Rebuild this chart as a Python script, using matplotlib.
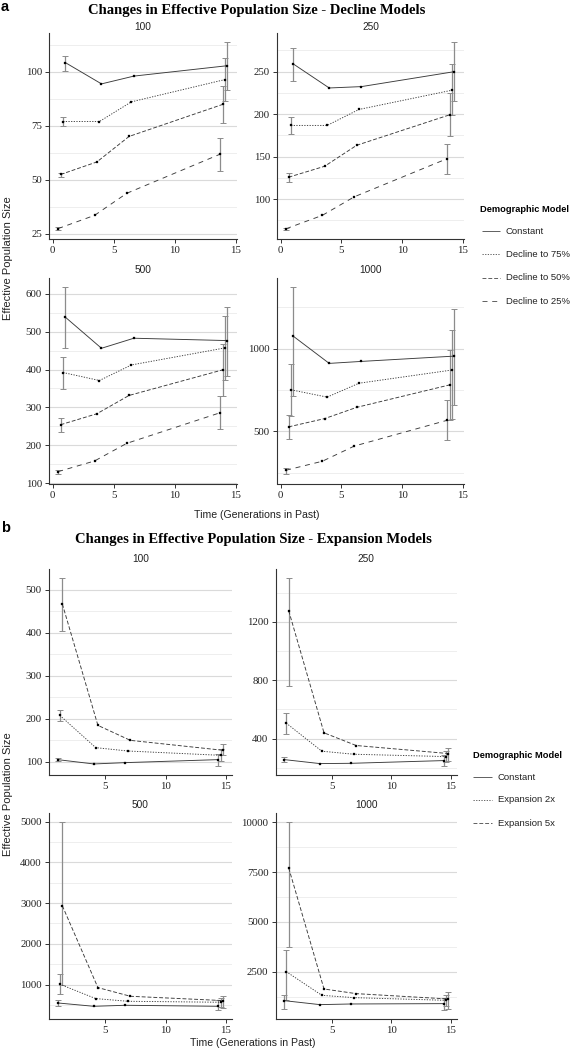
import numpy as np
import matplotlib
matplotlib.use("Agg")
import matplotlib.pyplot as plt
from matplotlib.ticker import FixedLocator, MultipleLocator
from matplotlib.lines import Line2D

nan = np.nan

# ---------------- data ----------------
decline_models = ["Constant", "Decline to 75%", "Decline to 50%", "Decline to 25%"]
expansion_models = ["Constant", "Expansion 2x", "Expansion 5x"]

# time (generations in past), dodged per model
decline_x = [[1.05, 4.00, 6.65, 14.30],
             [0.86, 3.83, 6.45, 14.12],
             [0.65, 3.62, 6.26, 13.92],
             [0.45, 3.43, 6.07, 13.72]]
expansion_x = [[1.02, 4.03, 6.65, 14.40],
               [1.20, 4.19, 6.86, 14.61],
               [1.41, 4.37, 7.07, 14.80]]

# Decline models, N = 100
dec100_mean = [[104.2, 94.4, 98.0, 102.8], [77.0, 77.0, 86.1, 96.4],
               [52.5, 58.3, 70.1, 84.9], [27.5, 33.6, 43.8, 61.9]]
dec100_lo = [[100.5, nan, nan, 91.8], [75.0, nan, nan, 86.3],
             [51.5, nan, nan, 76.2], [27.0, nan, nan, 54.3]]
dec100_hi = [[107.4, nan, nan, 113.6], [79.0, nan, nan, 106.2],
             [53.1, nan, nan, 93.5], [28.0, nan, nan, 69.4]]

# Decline models, N = 250
dec250_mean = [[259.0, 230.8, 232.4, 250.0], [186.7, 186.7, 205.5, 228.2],
               [125.7, 138.6, 163.3, 199.2], [65.1, 80.8, 102.7, 147.6]]
dec250_lo = [[239.4, nan, nan, 215.5], [176.5, nan, nan, 199.2],
             [120.2, nan, nan, 173.7], [64.0, nan, nan, 130.0]]
dec250_hi = [[277.5, nan, nan, 284.5], [196.9, nan, nan, 258.8],
             [130.4, nan, nan, 225.0], [66.5, nan, nan, 164.9]]

# Decline models, N = 500
dec500_mean = [[537.7, 456.0, 482.5, 476.3], [392.0, 371.0, 412.0, 457.0],
               [254.4, 283.3, 331.6, 399.0], [130.7, 158.8, 205.3, 286.0]]
dec500_lo = [[456.0, nan, nan, 383.3], [348.0, nan, nan, 373.0],
             [235.0, nan, nan, 329.0], [124.0, nan, nan, 243.0]]
dec500_hi = [[616.7, nan, nan, 565.8], [434.0, nan, nan, 542.0],
             [272.0, nan, nan, 467.5], [136.0, nan, nan, 329.0]]

# Decline models, N = 1000
dec1000_mean = [[1074, 910, 922, 954], [750, 706, 790, 870],
                [526, 576, 644, 780], [264, 318, 410, 566]]
dec1000_lo = [[710, nan, nan, 660], [590, nan, nan, 574],
              [450, nan, nan, 570], [240, nan, nan, 446]]
dec1000_hi = [[1370, nan, nan, 1240], [904, nan, nan, 1114],
              [600, nan, nan, 990], [280, nan, nan, 686]]

# Expansion models, N = 100
exp100_mean = [[104.7, 94.6, 97.7, 104.7], [207.8, 132.6, 124.8, 114.7],
               [467.4, 184.5, 149.6, 126.4]]
exp100_lo = [[101.6, nan, nan, 90.7], [194.6, nan, nan, 101.6],
             [405.4, nan, nan, 114.7]]
exp100_hi = [[107.8, nan, nan, 118.6], [220.9, nan, nan, 130.2],
             [527.0, nan, nan, 140.3]]

# Expansion models, N = 250
exp250_mean = [[255.5, 228.0, 230.0, 248.6], [505.5, 313.0, 292.2, 276.0],
               [1275.7, 439.0, 352.0, 297.0]]
exp250_lo = [[239.0, nan, nan, 214.0], [427.5, nan, nan, 240.0],
             [760.0, nan, nan, 249.0]]
exp250_hi = [[276.0, nan, nan, 290.0], [572.0, nan, nan, 313.0],
             [1498.0, nan, nan, 336.0]]

# Expansion models, N = 500
exp500_mean = [[549, 467, 492, 467], [1008, 656, 590, 566],
               [2934, 926, 713, 607]]
exp500_lo = [[467, nan, nan, 385], [779, nan, nan, 451],
             [980, nan, nan, 426]]
exp500_hi = [[631, nan, nan, 615], [1262, nan, nan, 672],
             [4980, nan, nan, 730]]

# Expansion models, N = 1000
exp1000_mean = [[1067, 867, 900, 917], [2517, 1333, 1217, 1083],
                [7700, 1650, 1417, 1150]]
exp1000_lo = [[650, nan, nan, 617], [1117, nan, nan, 783],
              [3750, nan, nan, 650]]
exp1000_hi = [[1367, nan, nan, 1200], [3617, nan, nan, 1367],
              [9983, nan, nan, 1517]]

# tick labels
dec_yticks = {"100": [25, 50, 75, 100], "250": [100, 150, 200, 250],
              "500": [100, 200, 300, 400, 500, 600], "1000": [500, 1000]}
exp_yticks = {"100": [100, 200, 300, 400, 500], "250": [400, 800, 1200],
              "500": [1000, 2000, 3000, 4000, 5000],
              "1000": [2500, 5000, 7500, 10000]}
dec_xticks = [0, 5, 10, 15]
exp_xticks = [5, 10, 15]

# ---------------- style ----------------
plt.rcParams['font.family'] = ['Liberation Serif', 'DejaVu Serif']
plt.rcParams['lines.scale_dashes'] = False
SANS = ['Liberation Sans', 'DejaVu Sans']

W, H = 573, 1053
fig = plt.figure(figsize=(W / 100, H / 100), dpi=100)


def rect(l, t, r, b):
    return [l / W, 1 - b / H, (r - l) / W, (b - t) / H]


def fx(x):
    return x / W


def fy(y):
    return 1 - y / H


dec_styles = [(0, ()), (0, (0.9, 1.0)), (0, (2.8, 1.4)), (0, (3.6, 3.4))]
exp_styles = [(0, ()), (0, (0.9, 1.0)), (0, (2.8, 1.4))]

LINE_C = '#3a3a3a'
ERR_C = '#8c8c8c'


def draw_panel(pos, xs, means, los, his, styles, yticks, xticks, xlim, label, label_y):
    ax = fig.add_axes(rect(*pos))
    for x, m, lo, hi, ls in zip(xs, means, los, his, styles):
        x = np.asarray(x, float)
        m = np.asarray(m, float)
        lo = np.asarray(lo, float)
        hi = np.asarray(hi, float)
        ok = np.isfinite(lo)
        ax.errorbar(x[ok], m[ok], yerr=[m[ok] - lo[ok], hi[ok] - m[ok]], fmt='none',
                    ecolor=ERR_C, elinewidth=0.9, capsize=2.2, capthick=0.7, zorder=3)
        ax.plot(x, m, color=LINE_C, lw=0.65, linestyle=ls, zorder=4)
        ax.plot(x, m, linestyle='none', marker='s', ms=1.7, mfc='black', mec='black',
                mew=0.2, zorder=5)
    ax.set_xlim(xlim)
    ax.margins(y=0.05)
    ax.autoscale_view()
    for s in ['top', 'right']:
        ax.spines[s].set_visible(False)
    for s in ['left', 'bottom']:
        ax.spines[s].set_color('#333333')
        ax.spines[s].set_linewidth(0.8)
    ax.xaxis.set_major_locator(FixedLocator(xticks))
    ax.yaxis.set_major_locator(FixedLocator(yticks))
    ax.yaxis.set_minor_locator(MultipleLocator((yticks[1] - yticks[0]) / 2))
    ax.set_yticklabels([str(t) for t in yticks])
    ax.set_xticklabels([str(t) for t in xticks])
    ax.grid(axis='y', which='major', color='#dadada', lw=0.8)
    ax.grid(axis='y', which='minor', color='#ebebeb', lw=0.6)
    ax.set_axisbelow(True)
    ax.tick_params(which='minor', length=0)
    ax.tick_params(which='major', length=2.6, width=0.7, color='#333333',
                   labelsize=7.8, labelcolor='#222222', pad=2.5)
    cx = (pos[0] + pos[2]) / 2
    fig.text(fx(cx), fy(label_y), label, ha='center', va='center',
             fontsize=7.3, family=SANS, color='#222222')
    return ax


# ---------------- part a ----------------
xlim_a = (-0.3, 15.1)
a_pos = {"100": (49, 33, 237, 239), "250": (277, 33, 464, 239),
         "500": (49, 278, 237, 483.5), "1000": (277, 278, 464, 483.5)}
a_lab_y = {"100": 27, "250": 27, "500": 269.5, "1000": 269.5}
dec_data = {"100": (dec100_mean, dec100_lo, dec100_hi),
            "250": (dec250_mean, dec250_lo, dec250_hi),
            "500": (dec500_mean, dec500_lo, dec500_hi),
            "1000": (dec1000_mean, dec1000_lo, dec1000_hi)}
for k in ["100", "250", "500", "1000"]:
    m, lo, hi = dec_data[k]
    draw_panel(a_pos[k], decline_x, m, lo, hi, dec_styles, dec_yticks[k],
               dec_xticks, xlim_a, k, a_lab_y[k])

# ---------------- part b ----------------
xlim_b = (0.3, 15.53)
b_pos = {"100": (49, 569, 232, 775), "250": (275.5, 569, 457, 775),
         "500": (49, 813, 232, 1019), "1000": (275.5, 813, 457, 1019)}
b_lab_y = {"100": 559.5, "250": 559.5, "500": 805, "1000": 805}
exp_data = {"100": (exp100_mean, exp100_lo, exp100_hi),
            "250": (exp250_mean, exp250_lo, exp250_hi),
            "500": (exp500_mean, exp500_lo, exp500_hi),
            "1000": (exp1000_mean, exp1000_lo, exp1000_hi)}
for k in ["100", "250", "500", "1000"]:
    m, lo, hi = exp_data[k]
    draw_panel(b_pos[k], expansion_x, m, lo, hi, exp_styles, exp_yticks[k],
               exp_xticks, xlim_b, k, b_lab_y[k])

# ---------------- titles / labels ----------------
fig.text(fx(1), fy(7), "a", ha='left', va='center', fontsize=10.5,
         fontweight='bold', family=SANS)
fig.text(fx(1), fy(528), "b", ha='left', va='center', fontsize=10.5,
         fontweight='bold', family=SANS)
fig.text(fx(256.5), fy(10.5), "Changes in Effective Population Size - Decline Models",
         ha='center', va='center', fontsize=10.5, fontweight='bold')
fig.text(fx(253), fy(539), "Changes in Effective Population Size - Expansion Models",
         ha='center', va='center', fontsize=10.5, fontweight='bold')

for yc in [258, 794]:
    fig.text(fx(8), fy(yc), "Effective Population Size", rotation=90,
             ha='center', va='center', fontsize=8.0, family=SANS, color='#222222')
fig.text(fx(256.5), fy(515), "Time (Generations in Past)", ha='center', va='center',
         fontsize=7.6, family=SANS, color='#222222')
fig.text(fx(253), fy(1043), "Time (Generations in Past)", ha='center', va='center',
         fontsize=7.6, family=SANS, color='#222222')

# ---------------- legends ----------------
def draw_legend(title_xy, x0, x1, xt, ys, labels, styles):
    fig.text(fx(title_xy[0]), fy(title_xy[1]), "Demographic Model", ha='left',
             va='center', fontsize=6.7, fontweight='bold', family=SANS)
    for y, lab, ls in zip(ys, labels, styles):
        fig.add_artist(Line2D([fx(x0), fx(x1)], [fy(y), fy(y)], color='#555555',
                              lw=0.65, linestyle=ls, transform=fig.transFigure))
        fig.text(fx(xt), fy(y), lab, ha='left', va='center', fontsize=6.8,
                 family=SANS, color='#222222')


draw_legend((480, 209), 482, 500, 506, [231, 254.3, 277.7, 301],
            decline_models, dec_styles)
draw_legend((473, 756), 473, 492, 498, [777.3, 800, 823.3],
            expansion_models, exp_styles)

fig.savefig("out.png", dpi=100)
